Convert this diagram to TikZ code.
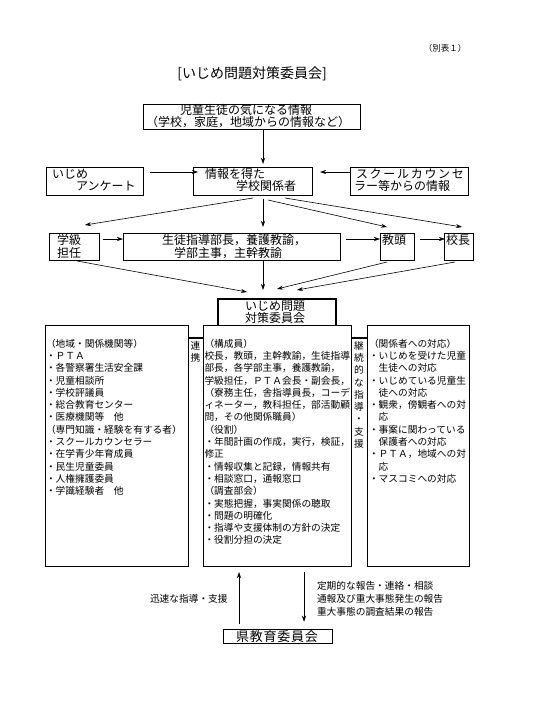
\documentclass[tikz,border=0pt]{standalone}
\usepackage{fontspec}
\setmainfont{Noto Sans CJK JP}
\usetikzlibrary{arrows.meta,calc}
\begin{document}
\begin{tikzpicture}[x=1pt,y=-1pt,
  box/.style={draw,line width=0.7pt,inner sep=0pt,outer sep=0pt},
  arr/.style={line width=0.6pt,-{Stealth[length=6pt,width=4pt]}},
  t/.style={inner sep=0pt,outer sep=0pt,text height=8.54pt,text depth=1.16pt,font=\fontsize{9.7}{12}\selectfont},
  tb/.style={inner sep=0pt,outer sep=0pt,text height=10.56pt,text depth=1.44pt,font=\fontsize{12}{12}\selectfont},
  tk/.style={inner sep=0pt,outer sep=0pt,text height=11.44pt,text depth=1.56pt,font=\fontsize{13}{13}\selectfont},
  thickline/.style={line width=1.6pt},
]
\useasboundingbox (0,0) rectangle (533,717);

% headings
\node[inner sep=0pt,font=\fontsize{8.5}{9}\selectfont] (bh) at (445,48) {（別表１）};
\node[inner sep=0pt,text height=12.3pt,text depth=1.7pt,font=\fontsize{14}{14}\selectfont] (title) at (252,73) {[いじめ問題対策委員会]};

% top box
\node[box,minimum width=217pt,minimum height=25pt] (top) at (251.5,116.5) {};
\node[tb] (top1) at (246,110) {児童生徒の気になる情報};
\node[tb] (top2) at (248,121.5) {（学校，家庭，地域からの情報など）};

% second row
\node[box,minimum width=97pt,minimum height=28pt] (ijime) at (94.5,181) {};
\node[tb,anchor=west] (ijime1) at (52,174) {いじめ};
\node[tb,anchor=west] (ijime2) at (76,186) {アンケート};

\node[box,minimum width=119pt,minimum height=28pt] (info) at (252.5,181) {};
\node[tb,anchor=west] (info1) at (205,173.5) {情報を得た};
\node[tb,anchor=west] (info2) at (236,186) {学校関係者};

\node[box,minimum width=118pt,minimum height=28pt] (sc) at (409,181) {};
\node[tb,anchor=west] (sc1) at (356,173.5) {ス\kern1.7pt ク\kern1.7pt ー\kern1.7pt ル\kern1.7pt カ\kern1.7pt ウ\kern1.7pt ン\kern1.7pt セ};
\node[tb,anchor=west] (sc2) at (354,186) {ラー等からの情報};

% third row
\node[box,minimum width=50pt,minimum height=27pt] (gakkyu) at (74,246.5) {};
\node[tb,anchor=west] (gk1) at (57,239.5) {学級};
\node[tb,anchor=west] (gk2) at (57,252.5) {担任};

\node[box,minimum width=217pt,minimum height=27pt] (seito) at (231.5,246.5) {};
\node[tb,anchor=west] (st1) at (162,239.5) {生徒指導部長，養護教諭，};
\node[tb,anchor=west] (st2) at (174,252.5) {学部主事，主幹教諭};

\node[box,minimum width=34pt,minimum height=27pt] (kyoto) at (397,246.5) {};
\node[tb,anchor=west] (ky1) at (382,239.5) {教頭};

\node[box,minimum width=29pt,minimum height=27pt] (kocho) at (458.5,246.5) {};
\node[tb,anchor=west] (kc1) at (446,239.5) {校長};

% committee box
\node[inner sep=0pt,outer sep=0pt,minimum width=118pt,minimum height=26pt] (iinkai) at (277,312) {};
\draw[thickline] (iinkai.south west) |- (iinkai.north east) -- (iinkai.south east);
\node[tb] (ii1) at (275,305.5) {いじめ問題};
\node[tb] (ii2) at (275,318) {対策委員会};

% columns
\node[box,minimum width=143pt,minimum height=241.5pt] (left) at (116.5,445.75) {};
\node[box,minimum width=148pt,minimum height=241.5pt] (mid) at (277,445.75) {};
\node[box,minimum width=102pt,minimum height=241.5pt] (right) at (418,445.75) {};
\draw[thickline] ([yshift=-13pt]left.north east) -- ([yshift=-13pt]mid.north west);
\draw[thickline] ([yshift=-13pt]mid.north east) -- ([yshift=-13pt]right.north west);

\foreach \c [count=\i from 0] in {連,携}
  \node[t] (SL\i) at (195.5,{345.5+12.6*\i}) {\c};
\foreach \c [count=\i from 0] in {継,続,的,な,指,導,・,支,援}
  \node[t] (SR\i) at (359,{345.5+12.3*\i}) {\c};

\foreach \s [count=\i from 0] in {（地域・関係機関等）,・ＰＴＡ,・各警察署生活安全課,・児童相談所,・学校評議員,・総合教育センター,・医療機関等　他,（専門知識・経験を有する者）,・スクールカウンセラー,・在学青少年育成員,・民生児童委員,・人権擁護委員,・学識経験者　他}
  \node[t,anchor=west] (L\i) at (46,{343.5+12.3*\i}) {\s};

\foreach \s [count=\i from 0] in {（構成員）,校長，教頭，主幹教諭，生徒指導,部長，各学部主事，養護教諭，,学級担任，ＰＴＡ会長・副会長，,（寮務主任，舎指導員長，コーデ,ィネーター，教科担任，部活動顧,問，その他関係職員）,（役割）,・年間計画の作成，実行，検証，,修正,・情報収集と記録，情報共有,・相談窓口，通報窓口,（調査部会）,・実態把握，事実関係の聴取,・問題の明確化,・指導や支援体制の方針の決定,・役割分担の決定}
  \node[t,anchor=west] (M\i) at (204.5,{343.5+12.3*\i}) {\s};

\foreach \s [count=\i from 0] in {（関係者への対応）,・いじめを受けた児童,　生徒への対応,・いじめている児童生,　徒への対応,・観衆，傍観者への対,　応,・事案に関わっている,　保護者への対応,・ＰＴＡ，地域への対,　応,・マスコミへの対応}
  \node[t,anchor=west] (R\i) at (369,{343.5+12.3*\i}) {\s};

% board of education
\node[box,minimum width=109pt,minimum height=13.5pt] (ken) at (277.5,636.5) {};
\node[tk] (kent) at (277,636.5) {県\kern.8pt 教\kern.8pt 育\kern.8pt 委\kern.8pt 員\kern.8pt 会};

\node[t,anchor=west] (q1) at (150,599) {迅速な指導・支援};
\node[t,anchor=west] (r1) at (317,586) {定期的な報告・連絡・相談};
\node[t,anchor=west] (r2) at (317,599) {通報及び重大事態発生の報告};
\node[t,anchor=west] (r3) at (317,612) {重大事態の調査結果の報告};

% arrows
\draw[arr] ([shift={(11.5,0)}]top.south) -- ([shift={(10.5,-3)}]info.north);
\draw[arr] ([shift={(7,-9)}]ijime.east) -- ([shift={(5,-9)}]info.west);
\draw[arr] ([shift={(0,-9)}]sc.west) -- ([shift={(8,-9)}]info.east);
\draw[arr] ([shift={(0.5,3)}]info.south) -- ([shift={(11,-8)}]gakkyu.north);
\draw[arr] ([shift={(10.5,4)}]info.south) -- ([shift={(31.5,-6)}]seito.north);
\draw[arr] ([shift={(15.5,5)}]info.south) -- ([shift={(-10,-6)}]kyoto.north);
\draw[arr] ([shift={(32.5,3)}]info.south) -- ([shift={(3.5,-6)}]kocho.north);
\draw[arr] ([shift={(4,-7.5)}]gakkyu.east) -- ([shift={(0,-7.5)}]seito.west);
\draw[arr] ([shift={(6,-7.5)}]seito.east) -- ([shift={(0,-7.5)}]kyoto.west);
\draw[arr] ([shift={(6,-7.5)}]kyoto.east) -- ([shift={(1,-7.5)}]kocho.west);
\draw[arr] ([shift={(3,1)}]gakkyu.south) -- ([shift={(-30,-7)}]iinkai.north);
\draw[arr] ([shift={(31.5,1)}]seito.south) -- ([shift={(-14,-9)}]iinkai.north);
\draw[arr] ([shift={(-10,2)}]kyoto.south) -- ([shift={(0,-10)}]iinkai.north);
\draw[arr] ([shift={(-3.5,2)}]kocho.south) -- ([shift={(20,-9)}]iinkai.north);
\draw[arr] ([shift={(-38.5,-6)}]ken.north) -- ([shift={(-38,5.5)}]mid.south);
\draw[arr] ([shift={(27,5.5)}]mid.south) -- ([shift={(26.5,-8)}]ken.north);
\end{tikzpicture}
\end{document}
